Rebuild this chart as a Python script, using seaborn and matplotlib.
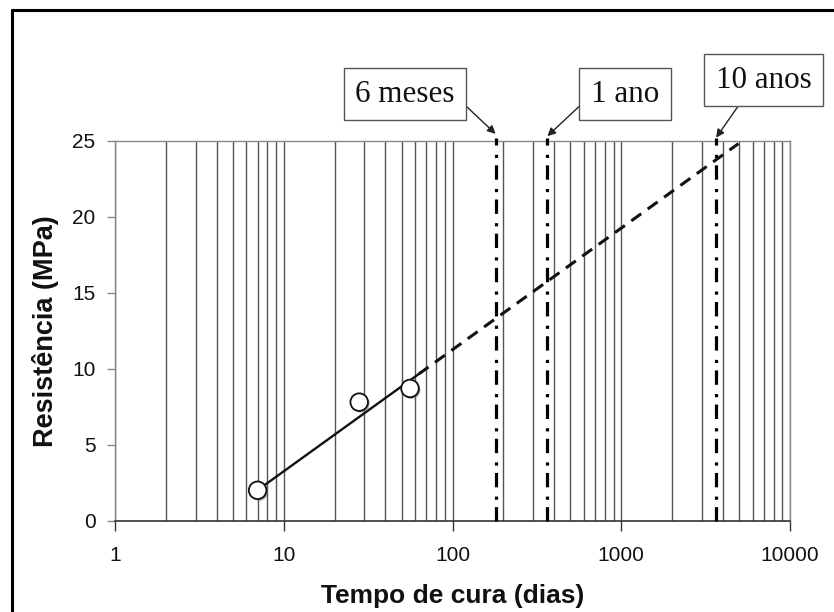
import numpy as np
import pandas as pd
import matplotlib
matplotlib.use("Agg")
import matplotlib.pyplot as plt
import matplotlib.patheffects as pe
from matplotlib.ticker import LogLocator, FixedLocator, NullFormatter
from matplotlib.lines import Line2D
import seaborn as sns

# ---- data ----
idade_dias = [7, 28, 56]
resistencia = [2.0, 7.8, 8.7]

# logarithmic trend: y = a + b*log10(x)
trend_intercept = -4.75
trend_slope = 8.0
trend_solid_x = [7, 63]
trend_dashed_x = [63, 4950]

marcos_dias = [180, 365, 3650]
marcos_rotulos = ["6 meses", "1 ano", "10 anos"]

x_ticks = [1, 10, 100, 1000, 10000]
x_tick_labels = ["1", "10", "100", "1000", "10000"]
y_ticks = [0, 5, 10, 15, 20, 25]

x_label = "Tempo de cura (dias)"
y_label = "Resistência (MPa)"

# ---- style ----
sns.set_theme(style="white")
plt.rcParams["font.family"] = ["Liberation Sans", "DejaVu Sans"]

W, H = 834, 612
fig = plt.figure(figsize=(W / 100, H / 100), dpi=100)
ax = fig.add_axes([115 / W, 1 - 520.7 / H, (790 - 115) / W, (520.7 - 140.7) / H])

ax.set_xscale("log")
ax.set_xlim(1, 10000)
ax.set_ylim(0, 25)

# vertical grid lines (major + minor decades)
ax.xaxis.set_major_locator(FixedLocator(x_ticks))
ax.xaxis.set_minor_locator(LogLocator(base=10, subs=np.arange(2, 10)))
ax.xaxis.set_minor_formatter(NullFormatter())
ax.set_xticks(x_ticks)
ax.set_xticklabels(x_tick_labels)
ax.set_yticks(y_ticks)
ax.grid(False)
ax.grid(True, which="both", axis="x", color="#555555", linewidth=1.0)
ax.set_axisbelow(True)

# trend lines
solid_df = pd.DataFrame({"x": trend_solid_x,
                         "y": [trend_intercept + trend_slope * np.log10(v) for v in trend_solid_x]})
dashed_df = pd.DataFrame({"x": trend_dashed_x,
                          "y": [trend_intercept + trend_slope * np.log10(v) for v in trend_dashed_x]})
sns.lineplot(data=solid_df, x="x", y="y", ax=ax, color="#111111", linewidth=1.7, zorder=3)
sns.lineplot(data=dashed_df, x="x", y="y", ax=ax, color="#111111", linewidth=2.2,
             linestyle=(0, (4.0, 2.6)), zorder=3)

# milestone vertical dash-dot lines
for d in marcos_dias:
    ax.plot([d, d], [0, 25.2], color="#000000", linewidth=2.3,
            linestyle=(0, (4.5, 2.3, 1.0, 2.9)), zorder=4, clip_on=False)

# data points
pts = pd.DataFrame({"x": idade_dias, "y": resistencia})
sns.scatterplot(data=pts, x="x", y="y", ax=ax, s=160, color="white",
                edgecolor="#111111", linewidth=1.3, zorder=5)
ax.collections[-1].set_path_effects([
    pe.SimplePatchShadow(offset=(1.2, -1.2), shadow_rgbFace="#777777", alpha=0.6),
    pe.Normal()])

# annotations
box_centers = [(405, 612 - 94), (625, 612 - 94), (763.5, 612 - 80)]
relpos = [(1.0, 0.45), (0.0, 0.45), (0.32, 0.0)]
tip_y = [25.45, 25.3, 25.2]
for d, lab, c, rp, ty in zip(marcos_dias, marcos_rotulos, box_centers, relpos, tip_y):
    ax.annotate(lab, xy=(d, ty), xycoords="data", xytext=c, textcoords="figure pixels",
                ha="center", va="center", fontsize=22.4, family=["Liberation Serif"],
                color="#111111",
                bbox=dict(boxstyle="square,pad=0.37", fc="white", ec="#555555", lw=1.0),
                arrowprops=dict(arrowstyle="-|>", color="#222222", lw=1.0,
                                mutation_scale=12, relpos=rp, shrinkA=0, shrinkB=0),
                annotation_clip=False)

# spines & ticks
for s in ["left", "top", "right"]:
    ax.spines[s].set_color("#888888")
    ax.spines[s].set_linewidth(1.0)
ax.spines["bottom"].set_color("#333333")
ax.spines["bottom"].set_linewidth(1.2)
ax.tick_params(axis="y", which="major", direction="out", length=6, width=1,
               color="#888888", pad=8, labelsize=15, labelcolor="#111111", left=True)
ax.tick_params(axis="x", which="major", direction="out", length=7, width=1,
               color="#333333", pad=11, labelsize=15, labelcolor="#111111", bottom=True)
ax.tick_params(axis="x", which="minor", length=0)

ax.set_xlabel(x_label, fontsize=19, fontweight="bold", color="#111111")
ax.set_ylabel(y_label, fontsize=19.5, fontweight="bold", color="#111111")
ax.xaxis.set_label_coords(0.5, (520.7 - 596) / (520.7 - 140.7))
ax.xaxis.label.set_va("center")
ax.yaxis.set_label_coords((46 - 115) / (790 - 115), 0.5)
ax.yaxis.label.set_va("center")

# outer frame (left and top edges visible in the reference)
fig.add_artist(Line2D([11.7 / W, 11.7 / W], [0, 1 - 10 / H], transform=fig.transFigure,
                      color="black", linewidth=2.2))
fig.add_artist(Line2D([11.7 / W, 1], [1 - 10 / H, 1 - 10 / H], transform=fig.transFigure,
                      color="black", linewidth=2.2))

fig.savefig("out.png", dpi=100)
